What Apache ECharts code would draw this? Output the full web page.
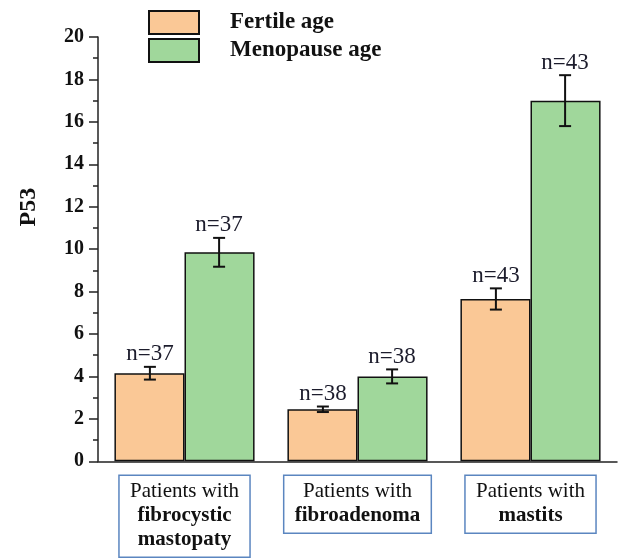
<!DOCTYPE html>
<html>
<head>
<meta charset="utf-8">
<script src="https://cdn.jsdelivr.net/npm/echarts@6/dist/echarts.min.js"></script>
<style>
  html, body { margin: 0; padding: 0; background: #fff; }
  #chart { width: 634px; height: 558px; }
</style>
</head>
<body>
<div id="chart"></div>
<script>
var categories = ['Patients with\nfibrocystic\nmastopaty', 'Patients with\nfibroadenoma', 'Patients with\nmastits'];
var fertileValues = [4.15, 2.45, 7.65];
var fertileErrors = [0.3, 0.13, 0.5];
var fertileCounts = ['n=37', 'n=38', 'n=43'];
var menoValues = [9.85, 4.0, 17.0];
var menoErrors = [0.68, 0.33, 1.2];
var menoCounts = ['n=37', 'n=38', 'n=43'];
var yTicks = [0, 2, 4, 6, 8, 10, 12, 14, 16, 18, 20];

var serif = "'Liberation Serif', 'Times New Roman', serif";

var chartDom = document.getElementById('chart');
var myChart = echarts.init(chartDom);

function errorData(values, errors, counts) {
    return values.map(function (v, i) {
        return [i, v, errors[i], counts[i]];
    });
}

// error bar + "n=" label, shifted left/right onto its bar
function errorRenderer(side) {
    return function (params, api) {
        var idx = api.value(0);
        var top = api.coord([idx, api.value(1) + api.value(2)]);
        var bottom = api.coord([idx, api.value(1) - api.value(2)]);
        var band = api.size([1, 0])[0];
        var x = top[0] + side * band * 0.2;
        var cap = 6;
        var style = { stroke: '#111', lineWidth: 2 };
        return {
            type: 'group',
            children: [
                { type: 'line', shape: { x1: x, y1: top[1], x2: x, y2: bottom[1] }, style: style },
                { type: 'line', shape: { x1: x - cap, y1: top[1], x2: x + cap, y2: top[1] }, style: style },
                { type: 'line', shape: { x1: x - cap, y1: bottom[1], x2: x + cap, y2: bottom[1] }, style: style },
                {
                    type: 'text',
                    style: {
                        x: x, y: top[1] - 1,
                        text: api.value(3),
                        align: 'center', verticalAlign: 'bottom',
                        font: '23px ' + serif,
                        fill: '#1c1c2c'
                    }
                }
            ]
        };
    };
}

var option = {
    animation: false,
    backgroundColor: '#fff',
    textStyle: { fontFamily: serif },
    legend: {
        orient: 'vertical',
        left: 148,
        top: 10,
        padding: 0,
        itemWidth: 50,
        itemHeight: 23,
        itemGap: 3,
        icon: 'rect',
        data: ['Fertile age', 'Menopause age'],
        itemStyle: { borderColor: '#111', borderWidth: 2 },
        textStyle: {
            fontFamily: serif,
            fontWeight: 'bold',
            fontSize: 23,
            lineHeight: 23,
            color: '#111',
            padding: [0, 0, 0, 26]
        }
    },
    grid: { left: 98, right: 17, top: 37, bottom: 95 },
    xAxis: [
        {
            type: 'category',
            data: categories,
            axisLine: { lineStyle: { color: '#222', width: 1.5 } },
            axisTick: { alignWithLabel: true, length: 7, lineStyle: { color: '#222', width: 1.5 } },
            axisLabel: {
                interval: 0,
                margin: 14,
                color: '#111',
                borderColor: '#5b86c0',
                borderWidth: 1.5,
                padding: [4, 11, 6, 11],
                lineHeight: 24,
                formatter: function (val) {
                    var lines = val.split('\n');
                    return lines.map(function (l, i) {
                        return (i === 0 ? '{r|' : '{b|') + l + '}';
                    }).join('\n');
                },
                rich: {
                    r: { fontFamily: serif, fontSize: 21, lineHeight: 24, color: '#111' },
                    b: { fontFamily: serif, fontSize: 21, fontWeight: 'bold', lineHeight: 24, color: '#111' }
                }
            }
        },
        {
            type: 'category',
            data: categories,
            position: 'bottom',
            gridIndex: 0,
            axisLine: { show: false },
            axisTick: { length: 3, lineStyle: { color: '#222', width: 1.5 } },
            axisLabel: { show: false }
        }
    ],
    yAxis: {
        type: 'value',
        min: yTicks[0],
        max: yTicks[yTicks.length - 1],
        interval: 2,
        name: 'P53',
        nameLocation: 'middle',
        nameGap: 57,
        nameTextStyle: {
            fontFamily: serif,
            fontWeight: 'bold',
            fontSize: 24,
            color: '#111',
            padding: [0, 0, 0, 84]
        },
        splitLine: { show: false },
        axisLine: { show: true, lineStyle: { color: '#222', width: 1.5 } },
        axisTick: { show: true, length: 9, lineStyle: { color: '#222', width: 1.5 } },
        minorTick: { show: true, splitNumber: 2, length: 5, lineStyle: { color: '#222', width: 1.5 } },
        axisLabel: {
            margin: 14,
            fontFamily: serif,
            fontWeight: 'bold',
            fontSize: 20,
            color: '#111'
        }
    },
    series: [
        {
            name: 'Fertile age',
            type: 'bar',
            data: fertileValues,
            barGap: '0%',
            barCategoryGap: '19%',
            itemStyle: { color: '#fac896', borderColor: '#111', borderWidth: 1.5 }
        },
        {
            name: 'Menopause age',
            type: 'bar',
            data: menoValues,
            barGap: '0%',
            barCategoryGap: '19%',
            itemStyle: { color: '#a0d79b', borderColor: '#111', borderWidth: 1.5 }
        },
        {
            type: 'custom',
            renderItem: errorRenderer(-1),
            data: errorData(fertileValues, fertileErrors, fertileCounts),
            z: 10
        },
        {
            type: 'custom',
            renderItem: errorRenderer(1),
            data: errorData(menoValues, menoErrors, menoCounts),
            z: 10
        }
    ]
};

if (option && typeof option === 'object') {
    myChart.setOption(option);
}
</script>
</body>
</html>
